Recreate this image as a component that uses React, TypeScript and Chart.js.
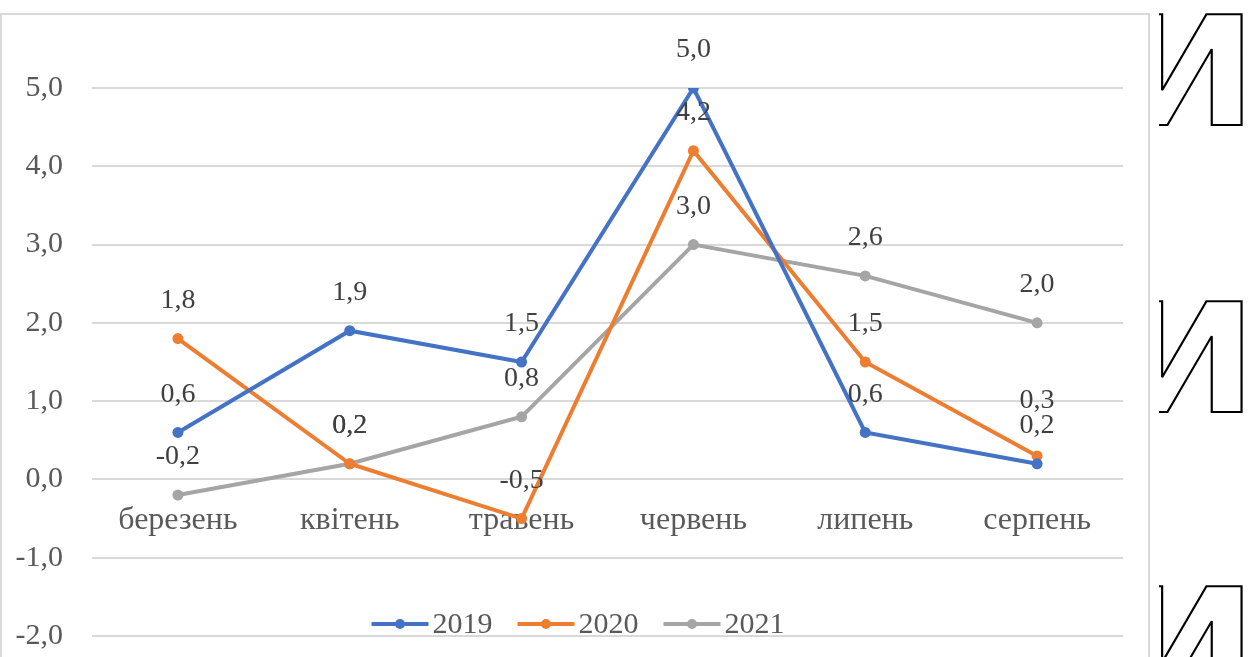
import React, { useEffect, useRef } from "react";
import { Chart, registerables } from "chart.js";

Chart.register(...registerables);

const categories = ["березень", "квітень", "травень", "червень", "липень", "серпень"];
const seriesNames = ["2019", "2020", "2021"];
const values2019 = [0.6, 1.9, 1.5, 5.0, 0.6, 0.2];
const values2020 = [1.8, 0.2, -0.5, 4.2, 1.5, 0.3];
const values2021 = [-0.2, 0.2, 0.8, 3.0, 2.6, 2.0];
const seriesColors = ["#4472C4", "#ED7D31", "#A5A5A5"];
const yMin = -2;
const yMax = 5;
const yStep = 1;

const FONT = "'Liberation Serif', 'Times New Roman', serif";
const fmt = (v: number) => v.toFixed(1).replace(".", ",");

const valueLabels = {
  id: "valueLabels",
  afterDatasetsDraw(chart: any) {
    const ctx = chart.ctx;
    ctx.save();
    ctx.font = `28px ${FONT}`;
    ctx.fillStyle = "#404040";
    ctx.textAlign = "center";
    ctx.textBaseline = "middle";
    const placed: { x: number; y: number; t: string }[] = [];
    chart.data.datasets.forEach((ds: any, i: number) => {
      const meta = chart.getDatasetMeta(i);
      meta.data.forEach((pt: any, j: number) => {
        const t = fmt(ds.data[j]);
        let y = pt.y - 38;
        let moved = true;
        while (moved) {
          moved = false;
          for (const p of placed) {
            if (p.t !== t && Math.abs(p.x - pt.x) < 30 && Math.abs(p.y - y) < 24) {
              y = p.y - 25;
              moved = true;
            }
          }
        }
        placed.push({ x: pt.x, y, t });
        ctx.fillText(t, pt.x, y);
      });
    });
    ctx.restore();
  },
};

const lineLegend = {
  id: "lineLegend",
  afterDraw(chart: any) {
    const ctx = chart.ctx;
    ctx.save();
    ctx.font = `30px ${FONT}`;
    ctx.textBaseline = "middle";
    ctx.textAlign = "left";
    const lineLen = 57;
    const gapText = 4;
    const gapItem = 25;
    const ds = chart.data.datasets;
    const widths = ds.map((d: any) => lineLen + gapText + ctx.measureText(d.label).width);
    const total = widths.reduce((a: number, b: number) => a + b, 0) + gapItem * (ds.length - 1);
    let x = chart.width / 2 - total / 2 + 4;
    const y = 624;
    ds.forEach((d: any, i: number) => {
      ctx.strokeStyle = d.borderColor;
      ctx.lineWidth = 4;
      ctx.beginPath();
      ctx.moveTo(x, y);
      ctx.lineTo(x + lineLen, y);
      ctx.stroke();
      ctx.fillStyle = d.borderColor;
      ctx.beginPath();
      ctx.arc(x + lineLen / 2, y, 5, 0, Math.PI * 2);
      ctx.fill();
      ctx.fillStyle = "#595959";
      ctx.fillText(d.label, x + lineLen + gapText, y + 1);
      x += widths[i] + gapItem;
    });
    ctx.restore();
  },
};

const zeroPad = (s: any) => {
  s.paddingLeft = 0;
  s.paddingRight = 0;
  s.paddingTop = 0;
  s.paddingBottom = 0;
};

function ChartView() {
  const ref = useRef<HTMLCanvasElement | null>(null);
  useEffect(() => {
    if (!ref.current) return;
    const all = [values2019, values2020, values2021];
    const chart = new Chart(ref.current, {
      type: "line",
      data: {
        labels: categories,
        datasets: all.map((vals, i) => ({
          label: seriesNames[i],
          data: vals,
          borderColor: seriesColors[i],
          backgroundColor: seriesColors[i],
          borderWidth: 4,
          pointRadius: 5.5,
          pointHoverRadius: 5.5,
          pointBorderWidth: 0,
          tension: 0,
        })),
      },
      options: {
        animation: false,
        responsive: false,
        maintainAspectRatio: false,
        layout: { padding: { left: 0, top: 88, right: 25, bottom: 21 } },
        plugins: {
          legend: { display: false },
          tooltip: { enabled: false },
        },
        scales: {
          y: {
            type: "linear",
            min: yMin,
            max: yMax,
            ticks: {
              stepSize: yStep,
              callback: (v: any) => fmt(Number(v)),
              font: { family: FONT, size: 30 },
              color: "#595959",
              padding: 29,
            },
            grid: { color: "#d9d9d9", lineWidth: 2, drawTicks: false },
            border: { display: false },
            afterFit: (s: any) => {
              s.width = 92;
              zeroPad(s);
            },
          },
          x: {
            type: "category",
            offset: true,
            position: { y: 0 } as any,
            ticks: {
              font: { family: FONT, size: 32 },
              color: "#595959",
              padding: 22,
              maxRotation: 0,
              autoSkip: false,
            },
            grid: { display: false, drawTicks: false, offset: true },
            border: { display: false },
            afterFit: (s: any) => {
              s.height = 0;
              zeroPad(s);
            },
          },
        },
      },
      plugins: [valueLabels, lineLegend],
    });
    return () => chart.destroy();
  }, []);
  return <canvas ref={ref} width={1148} height={657} style={{ position: "absolute", left: 0, top: 0 }} />;
}

const outlineGlyph: React.CSSProperties = {
  position: "absolute",
  left: -42,
  fontFamily: "'DejaVu Sans', sans-serif",
  fontWeight: "bold",
  fontSize: 152,
  lineHeight: "152px",
  color: "transparent",
  WebkitTextStroke: "2px #000",
  whiteSpace: "nowrap",
  transform: "scaleX(1.1)",
  transformOrigin: "0 0",
};

export default function App() {
  return (
    <div style={{ position: "fixed", left: 0, top: 0, width: 1251, height: 657, background: "#fff", overflow: "hidden" }}>
      <div style={{ position: "absolute", left: 1159, top: 0, width: 92, height: 657, overflow: "hidden" }}>
        <span style={{ ...outlineGlyph, top: -3 }}>И</span>
        <span style={{ ...outlineGlyph, top: 284 }}>И</span>
        <span style={{ ...outlineGlyph, top: 569 }}>И</span>
      </div>
      <div
        style={{
          position: "absolute",
          left: 0,
          top: 13,
          width: 1150,
          height: 700,
          border: "2px solid #d9d9d9",
          boxSizing: "border-box",
        }}
      />
      <ChartView />
    </div>
  );
}
